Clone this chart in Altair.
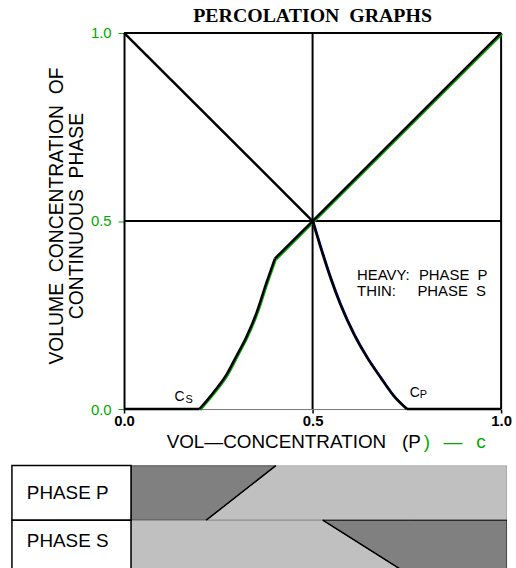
import altair as alt
import pandas as pd

GREEN = "#00aa00"
BLUE = "#0000cc"
DARK = "#808080"
LIGHT = "#c0c0c0"
SANS = "Liberation Sans"
NB = "\u00a0"

# Volume concentration of the continuous phase against vol-concentration c of phase P
phase_p_c = [0.0, 0.2, 0.237, 0.272, 0.298, 0.325, 0.351, 0.377, 0.4, 0.5, 1.0]
phase_p_v = [0.0, 0.0, 0.044, 0.092, 0.141, 0.193, 0.255, 0.334, 0.4, 0.5, 1.0]
phase_s_c = [0.0, 0.5, 0.522, 0.548, 0.574, 0.61, 0.645, 0.68, 0.715, 0.75, 1.0]
phase_s_v = [1.0, 0.5, 0.427, 0.347, 0.277, 0.198, 0.136, 0.084, 0.035, 0.0, 0.0]

tick_values = [0.0, 0.5, 1.0]
grid_values = [0.5, 1.0]

# Band diagram below: dark = dispersed, light = continuous
band_p_edge = [0.2, 0.385]   # boundary, bottom -> top of the PHASE P row
band_s_edge = [0.51, 0.74]   # boundary, top -> bottom of the PHASE S row
row_labels = ["PHASE P", "PHASE S"]

xscale = alt.Scale(domain=[0, 1], nice=False, zero=False)
yscale = alt.Scale(domain=[0, 1], nice=False, zero=False)

xaxis = alt.Axis(
    values=tick_values, format=".1f", title=None, grid=False,
    labelFont=SANS, labelFontSize=15, labelFontWeight="bold", labelColor="black",
    labelPadding=1, labelFlush=False,
    tickColor="black", tickSize=4, tickWidth=1.5,
    domainColor="#777777", domainWidth=1,
)
yaxis = alt.Axis(
    values=tick_values, format=".1f", grid=False,
    title=["VOLUME" + NB * 2 + "CONCENTRATION" + NB * 2 + "OF", "CONTINUOUS" + NB * 2 + "PHASE"],
    titleFont=SANS, titleFontSize=19.5, titleFontWeight="normal", titleColor="black",
    titleLineHeight=20, titlePadding=4, titleY=184,
    labelFont=SANS, labelFontSize=15, labelColor=GREEN, labelPadding=7,
    tickColor=GREEN, tickSize=6, tickWidth=1,
    domainColor="black", domainWidth=2,
)


def X(field):
    return alt.X(field, type="quantitative", scale=xscale, axis=xaxis)


def Y(field):
    return alt.Y(field, type="quantitative", scale=yscale, axis=yaxis)


def pieces(cs, vs, spans):
    """Split a polyline into index spans (inclusive), tagged by span number."""
    rows = []
    for k, (a, b) in enumerate(spans):
        for i in range(a, b + 1):
            rows.append({"c": cs[i], "v": vs[i], "seg": k})
    return pd.DataFrame(rows)


# straight stretches and the curved percolation branch of each phase
p_straight = pieces(phase_p_c, phase_p_v, [(0, 1), (8, 10)])
p_curve = pieces(phase_p_c, phase_p_v, [(1, 8)])
s_straight = pieces(phase_s_c, phase_s_v, [(0, 1), (9, 10)])
s_curve = pieces(phase_s_c, phase_s_v, [(1, 9)])
p_tail = pieces(phase_p_c, phase_p_v, [(8, 10)])


def trace(df, color, width, interp, **off):
    return alt.Chart(df).mark_line(color=color, strokeWidth=width, interpolate=interp, **off).encode(
        x=X("c"), y=Y("v"), detail="seg:N")


grid = pd.DataFrame({"g": grid_values})
grid_v = alt.Chart(grid).mark_rule(color="black", strokeWidth=2).encode(x=X("g"))
grid_h = alt.Chart(grid).mark_rule(color="black", strokeWidth=2).encode(y=Y("g"))

layers = [
    grid_v, grid_h,
    trace(p_curve, GREEN, 2, "monotone", xOffset=1, yOffset=1),
    trace(p_tail, GREEN, 2.5, "linear", xOffset=1, yOffset=1),
    trace(s_curve, BLUE, 1.5, "monotone", xOffset=1),
    trace(p_straight, "black", 2.5, "linear"),
    trace(p_curve, "black", 2.5, "monotone"),
    trace(s_straight, "black", 2.5, "linear"),
    trace(s_curve, "black", 2.5, "monotone"),
]

# Critical concentrations C_S and C_P with their subscripts
crit = pd.DataFrame({
    "t": ["C", "S", "C", "P"],
    "c": [0.134, 0.163, 0.758, 0.784],
    "v": [0.033, 0.024, 0.042, 0.037],
    "s": [14, 11, 14, 11],
})
layers.append(alt.Chart(crit).mark_text(font=SANS, align="left", baseline="middle", color="black").encode(
    x=X("c"), y=Y("v"), text="t:N", size=alt.Size("s:Q", scale=None)))

legend = pd.DataFrame({
    "t": ["HEAVY:", "PHASE" + NB * 2 + "P", "THIN:", "PHASE" + NB * 2 + "S"],
    "c": [0.618, 0.782, 0.618, 0.778],
    "v": [0.355, 0.355, 0.314, 0.314],
})
layers.append(alt.Chart(legend).mark_text(font=SANS, fontSize=15, align="left", baseline="middle", color="black").encode(
    x=X("c"), y=Y("v"), text="t:N"))

xtitle = pd.DataFrame({
    "t": ["VOL\u2014CONCENTRATION", "(P", ")", "\u2014", "c"],
    "c": [0.113, 0.737, 0.795, 0.847, 0.934],
    "v": [-0.087] * 5,
    "col": ["black", "black", GREEN, GREEN, GREEN],
})
layers.append(alt.Chart(xtitle).mark_text(font=SANS, fontSize=19, align="left", baseline="middle").encode(
    x=X("c"), y=Y("v"), text="t:N", color=alt.Color("col:N", scale=None)))

main = alt.layer(*layers).properties(
    width=380, height=379,
    title=alt.TitleParams(
        "PERCOLATION" + NB * 2 + "GRAPHS", font="Liberation Serif", fontSize=20,
        fontWeight="bold", color="black", anchor="middle", frame="group", offset=0,
    ),
)

# ---- band diagram ----
bx = alt.Scale(domain=[-0.0185, 1.0], nice=False, zero=False)
by = alt.Scale(domain=[0.11, 2.0], nice=False, zero=False)


def BX(field):
    return alt.X(field, type="quantitative", scale=bx, axis=None)


def BY(field):
    return alt.Y(field, type="quantitative", scale=by, axis=None)


p_dark = pd.DataFrame({"c": [0.0, band_p_edge[0], band_p_edge[1]], "lo": [1, 1, 2], "hi": [2, 2, 2]})
p_light = pd.DataFrame({"c": [band_p_edge[0], band_p_edge[1], 1.0], "lo": [1, 1, 1], "hi": [1, 2, 2]})
s_light = pd.DataFrame({"c": [0.0, band_s_edge[0], band_s_edge[1]], "lo": [0, 0, 0], "hi": [1, 1, 0]})
s_dark = pd.DataFrame({"c": [band_s_edge[0], band_s_edge[1], 1.0], "lo": [1, 0, 0], "hi": [1, 1, 1]})
p_edge = pd.DataFrame({"c": band_p_edge, "r": [1, 2]})
s_edge = pd.DataFrame({"c": band_s_edge, "r": [1, 0]})


def band(df, fill, stroke):
    return alt.Chart(df).mark_area(fill=fill, stroke=stroke, strokeWidth=1, clip=True).encode(
        x=BX("c"), y=BY("lo"), y2=alt.Y2("hi"))


areas = [
    band(p_light, LIGHT, "#909090"),
    band(p_dark, DARK, "black"),
    band(s_light, LIGHT, "#909090"),
    band(s_dark, DARK, "black"),
]
edge_p = alt.Chart(p_edge).mark_line(color="black", strokeWidth=1.5).encode(x=BX("c"), y=BY("r"))
edge_s = alt.Chart(s_edge).mark_line(color="black", strokeWidth=1.5, clip=True).encode(x=BX("c"), y=BY("r"))

boxes = pd.DataFrame({"x0": [-0.3166], "x1": [0.0], "lo": [1], "hi": [2]})
box_p = alt.Chart(boxes).mark_rect(fill="white", stroke="black", strokeWidth=1.5).encode(
    x=BX("x0"), x2=alt.X2("x1"), y=BY("lo"), y2=alt.Y2("hi"))
box_s = alt.Chart(boxes).mark_rect(fill="white", stroke="black", strokeWidth=1.5).encode(
    x=BX("x0"), x2=alt.X2("x1"), y=BY("lo"), y2=alt.value("height"))

labels = pd.DataFrame({"t": [r.replace(" ", NB) for r in row_labels],
                       "c": [-0.277, -0.277], "r": [1.5, 0.62]})
label_text = alt.Chart(labels).mark_text(font=SANS, fontSize=19, align="left", baseline="middle", color="black").encode(
    x=BX("c"), y=BY("r"), text="t:N")

lower = alt.layer(*areas, edge_p, edge_s, box_p, box_s, label_text).properties(width=386, height=104)

chart = alt.vconcat(main, lower, spacing=57, bounds="flush").properties(
    padding={"left": 11, "top": 4, "right": 4, "bottom": 0},
).configure_view(stroke=None)

chart.save("out.html", embed_options={"renderer": "svg", "actions": False})
